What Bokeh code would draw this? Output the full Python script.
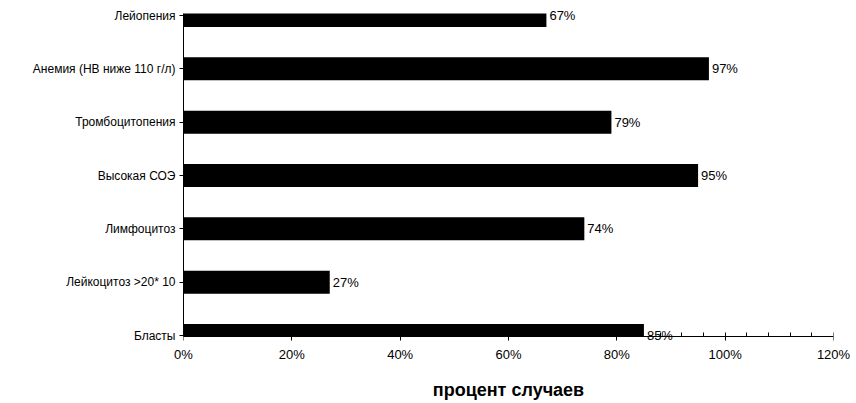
from bokeh.plotting import figure
from bokeh.models import ColumnDataSource, FixedTicker, LabelSet, Range1d, LinearAxis
from bokeh.core.properties import value
from bokeh.embed import file_html
from bokeh.resources import INLINE

# Data (top to bottom as shown)
categories = ["Лейопения", "Анемия (НВ ниже 110 г/л)", "Тромбоцитопения",
              "Высокая СОЭ", "Лимфоцитоз", "Лейкоцитоз >20* 10", "Бласты"]
values = [67, 97, 79, 95, 74, 27, 85]
x_ticks = [0, 20, 40, 60, 80, 100, 120]
x_tick_labels = ["0%", "20%", "40%", "60%", "80%", "100%", "120%"]
x_title = "процент случаев"

n = len(categories)
ypos = [n - 1 - i for i in range(n)]  # top category at highest position
labels = [f"{v}%" for v in values]

# axis window (data units): x axis sits slightly below the lowest category,
# the drawing area ends slightly above the top category
Y_AXIS = -0.019
Y_TOP = n - 1 + 0.0375
BAR_H = 0.43
tops = [min(y + BAR_H / 2, Y_TOP) for y in ypos]
bottoms = [max(y - BAR_H / 2, Y_AXIS) for y in ypos]

source = ColumnDataSource(dict(y=ypos, v=values, lab=labels,
                               top=tops, bottom=bottoms))

FONT = "Liberation Sans"

p = figure(width=856, height=403, output_backend="svg", toolbar_location=None,
           x_range=Range1d(0, 120), y_range=Range1d(-0.15, 6.20625),
           min_border_left=183, min_border_right=23, min_border_top=4,
           min_border_bottom=60)
p.outline_line_color = None
p.xgrid.visible = False
p.ygrid.visible = False

p.quad(left=0, right="v", top="top", bottom="bottom", source=source,
       fill_color="black", line_color=None)

p.add_layout(LabelSet(x="v", y="y", text="lab", source=source, x_offset=3,
                      text_baseline="middle", text_align="left",
                      text_font=value(FONT), text_font_size=value("13px"),
                      text_color="black"))

minor = [t for t in range(0, 121, 4) if t % 20 != 0]

# X axis line + ticks, drawn at the bottom of the bars
xa = p.xaxis[0]
xa.fixed_location = Y_AXIS
xa.ticker = FixedTicker(ticks=x_ticks, minor_ticks=minor)
xa.major_tick_in = 4
xa.major_tick_out = 4
xa.minor_tick_in = 4
xa.minor_tick_out = 0
xa.major_label_standoff = 0
xa.major_label_text_font_size = "0px"
xa.major_label_text_alpha = 0
xa.axis_line_color = "black"
xa.major_tick_line_color = "black"
xa.minor_tick_line_color = "black"

# X tick labels + title
xb = LinearAxis(ticker=FixedTicker(ticks=x_ticks, minor_ticks=[]))
xb.major_label_overrides = {t: l for t, l in zip(x_ticks, x_tick_labels)}
xb.axis_line_color = None
xb.major_tick_line_color = None
xb.minor_tick_line_color = None
xb.major_tick_in = 0
xb.major_tick_out = 0
xb.major_label_standoff = 3
xb.major_label_text_font = FONT
xb.major_label_text_font_size = "13px"
xb.major_label_text_color = "black"
xb.axis_label = x_title
xb.axis_label_text_font = FONT
xb.axis_label_text_font_size = "18px"
xb.axis_label_text_font_style = "bold"
xb.axis_label_text_color = "black"
xb.axis_label_standoff = 15
p.add_layout(xb, "below")

# Y axis
ya = p.yaxis[0]
ya.bounds = (Y_AXIS, Y_TOP)
ya.ticker = FixedTicker(ticks=ypos, minor_ticks=[])
ya.major_label_overrides = {y: c for y, c in zip(ypos, categories)}
ya.major_tick_in = 0
ya.major_tick_out = 4
ya.minor_tick_line_color = None
ya.major_label_standoff = 4
ya.major_label_text_font = FONT
ya.major_label_text_font_size = "12px"
ya.major_label_text_color = "black"
ya.axis_line_color = "black"
ya.major_tick_line_color = "black"

open("out.html", "w").write(file_html(p, INLINE))
